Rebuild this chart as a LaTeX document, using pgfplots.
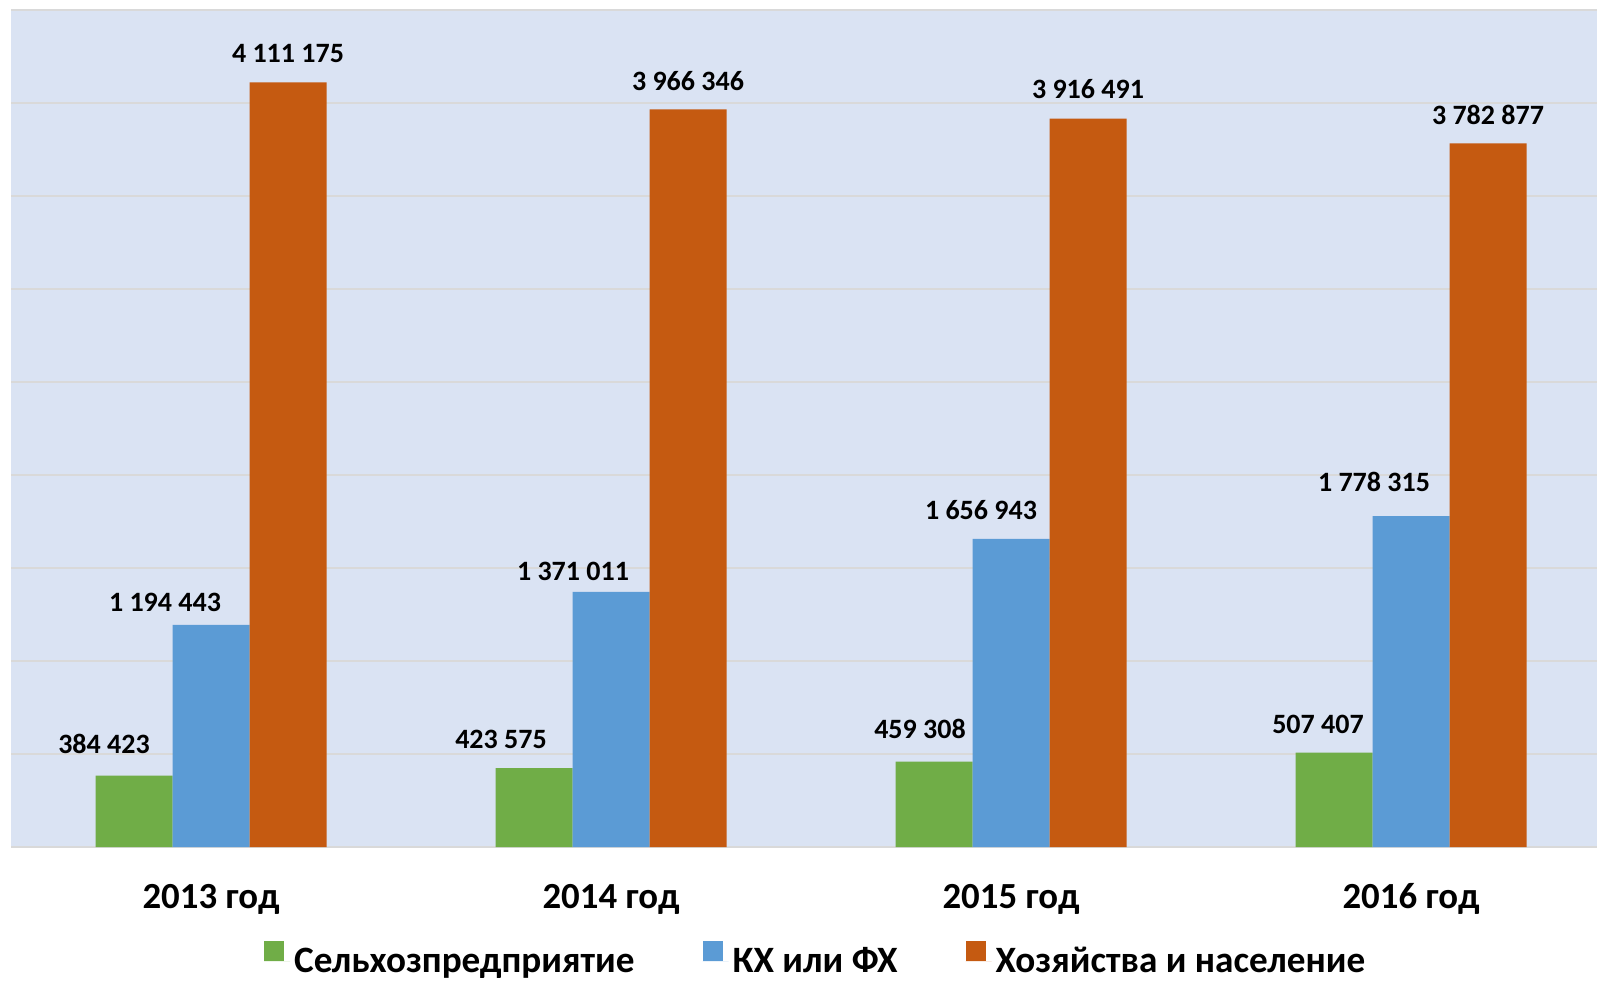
\documentclass[border=0pt]{standalone}
\usepackage{pgfplots}
\pgfplotsset{compat=1.18}
\usepackage{pgfplotstable}
\usepackage{fontspec}
\setmainfont{Carlito}
\definecolor{bgblue}{HTML}{DAE3F3}
\definecolor{gridgray}{HTML}{D9D9D9}
\definecolor{cgreen}{HTML}{70AD47}
\definecolor{cblue}{HTML}{5B9BD5}
\definecolor{corange}{HTML}{C55A11}

\pgfplotstableread{
x y dx dy
0 384423 -15 16
1 423575 -16.5 14.3
2 459308 -7 16.3
3 507407 -8 14.3
}\tgreen
\pgfplotstableread{
x y dx dy
0 1194443 -23 11.2
1 1371011 -19 10.2
2 1656943 -15 14.3
3 1778315 -18.5 17.3
}\tblue
\pgfplotstableread{
x y dx dy
0 4111175 0 14.3
1 3966346 0 14.3
2 3916491 0 14.8
3 3782877 0 14.3
}\torange

\begin{document}
\begin{tikzpicture}
\path[use as bounding box] (-5.5pt,-67pt) rectangle (793pt,423.5pt);
\begin{axis}[
  at={(0,0)}, anchor=south west,
  width=793pt, height=418.5pt, scale only axis,
  xmin=-0.5, xmax=3.465, ymin=0, ymax=4500000,
  ybar=0pt, bar width=0.1925,
  xtick={0,1,2,3},
  xticklabels={2013 год, 2014 год, 2015 год, 2016 год},
  ytick={0,500000,1000000,1500000,2000000,2500000,3000000,3500000,4000000,4500000},
  yticklabels={}, scaled y ticks=false,
  ymajorgrids, grid style={gridgray, line width=0.8pt},
  axis line style={draw=none},
  major tick length=0pt,
  axis background/.style={fill=bgblue},
  xticklabel style={font=\fontsize{18.4}{20}\selectfont\bfseries, anchor=base, yshift=-30.5pt},
  clip=false,
  nodes near coords={\pgfmathprintnumber[fixed, precision=0, 1000 sep={\ }, assume math mode=true]{\pgfplotspointmeta}},
  visualization depends on={\thisrow{dx} \as \dx},
  visualization depends on={\thisrow{dy} \as \dy},
  every node near coord/.append style={font=\fontsize{14}{16}\selectfont\bfseries, anchor=center, xshift=\dx pt, yshift=\dy pt, text=black},
  legend columns=3,
  legend style={draw=none, fill=none, at={(0.508,0)}, anchor=north, yshift=-45pt,
    font=\fontsize{18.6}{20}\selectfont\bfseries,
    /tikz/every even column/.append style={column sep=32pt}},
  legend image code/.code={\fill[#1] (0pt,0pt) rectangle (10pt,10pt); \path (0pt,0pt) -- (13pt,0pt);},
]
\addplot[fill=cgreen, draw=none] table[x=x, y=y] {\tgreen};
\addplot[fill=cblue, draw=none] table[x=x, y=y] {\tblue};
\addplot[fill=corange, draw=none] table[x=x, y=y] {\torange};
\legend{Сельхозпредприятие, КХ или ФХ, Хозяйства и население}
\end{axis}
\end{tikzpicture}
\end{document}
